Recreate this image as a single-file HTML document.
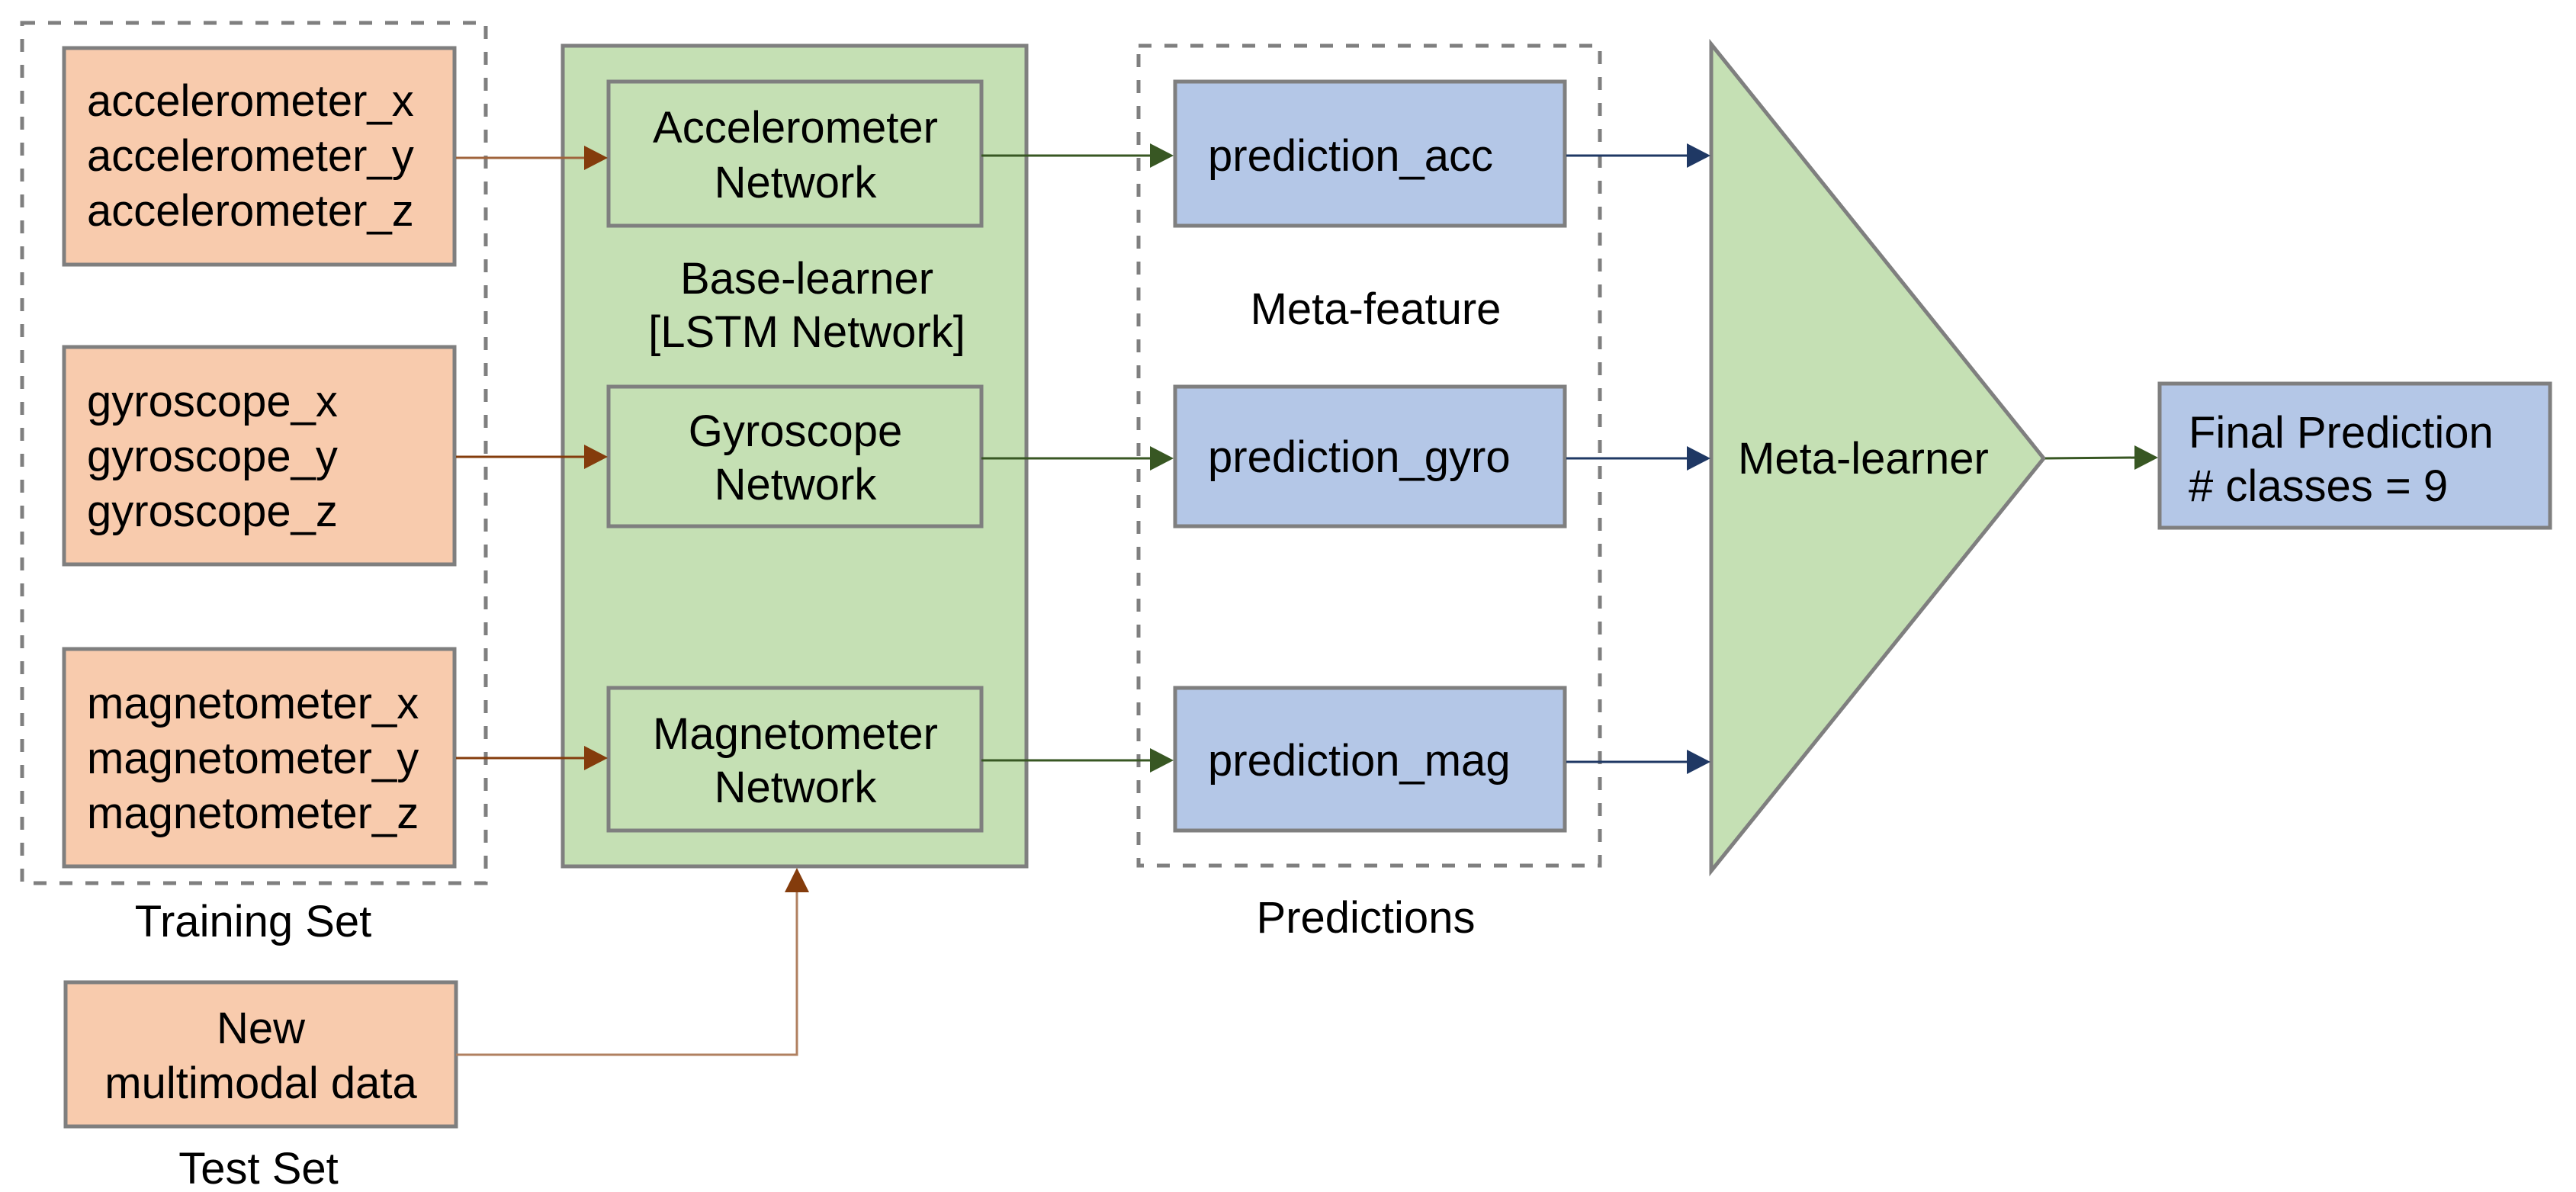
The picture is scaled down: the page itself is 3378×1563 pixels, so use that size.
<!DOCTYPE html>
<html><head><meta charset="utf-8"><style>
html,body{margin:0;padding:0;background:#fff;}
svg{display:block;}
text{font-family:"Liberation Sans","NanumGothic",sans-serif;font-size:58px;fill:#000;}
</style></head><body>
<svg width="3378" height="1563" viewBox="0 0 3378 1563" xmlns="http://www.w3.org/2000/svg">
<defs>
<marker id="ab" markerWidth="10" markerHeight="10" refX="9" refY="5" orient="auto" markerUnits="userSpaceOnUse" viewBox="0 0 10 10"><path d="M0,0 L10,5 L0,10 z" fill="#843C0C"/></marker>
</defs>
<!-- Training set dashed -->
<rect x="29" y="30" width="608" height="1128" fill="none" stroke="#7F7F7F" stroke-width="5" stroke-dasharray="17,17"/>
<rect x="84" y="63" width="512" height="284" fill="#F8CBAD" stroke="#7F7F7F" stroke-width="5"/>
<rect x="84" y="455" width="512" height="285" fill="#F8CBAD" stroke="#7F7F7F" stroke-width="5"/>
<rect x="84" y="851" width="512" height="285" fill="#F8CBAD" stroke="#7F7F7F" stroke-width="5"/>
<text x="114" y="152">accelerometer_x</text>
<text x="114" y="224">accelerometer_y</text>
<text x="114" y="296">accelerometer_z</text>
<text x="114" y="546">gyroscope_x</text>
<text x="114" y="618">gyroscope_y</text>
<text x="114" y="690">gyroscope_z</text>
<text x="114" y="942">magnetometer_x</text>
<text x="114" y="1014">magnetometer_y</text>
<text x="114" y="1086">magnetometer_z</text>
<text x="332" y="1228" text-anchor="middle">Training Set</text>
<!-- New data -->
<rect x="86" y="1288" width="512" height="189" fill="#F8CBAD" stroke="#7F7F7F" stroke-width="5"/>
<text x="342" y="1368" text-anchor="middle">New</text>
<text x="342" y="1440" text-anchor="middle">multimodal data</text>
<text x="339" y="1552" text-anchor="middle">Test Set</text>
<!-- Base learner -->
<rect x="738" y="60" width="608" height="1076" fill="#C5E0B4" stroke="#7F7F7F" stroke-width="5"/>
<rect x="798" y="107" width="489" height="189" fill="#C5E0B4" stroke="#7F7F7F" stroke-width="5"/>
<rect x="798" y="507" width="489" height="183" fill="#C5E0B4" stroke="#7F7F7F" stroke-width="5"/>
<rect x="798" y="902" width="489" height="187" fill="#C5E0B4" stroke="#7F7F7F" stroke-width="5"/>
<text x="1043" y="187" text-anchor="middle">Accelerometer</text>
<text x="1043" y="259" text-anchor="middle">Network</text>
<text x="1043" y="585" text-anchor="middle">Gyroscope</text>
<text x="1043" y="655" text-anchor="middle">Network</text>
<text x="1043" y="982" text-anchor="middle">Magnetometer</text>
<text x="1043" y="1052" text-anchor="middle">Network</text>
<text x="1058" y="385" text-anchor="middle">Base-learner</text>
<text x="1058" y="455" text-anchor="middle">[LSTM Network]</text>
<!-- arrows input -> networks -->
<g stroke-width="3" fill="none">
<line x1="598" y1="207" x2="770" y2="207" stroke="#A0643C"/>
<line x1="598" y1="599" x2="770" y2="599" stroke="#843C0C"/>
<line x1="598" y1="994" x2="770" y2="994" stroke="#843C0C"/>
<polyline points="598,1383 1045,1383 1045,1165" stroke="#B08060"/>
</g>
<g fill="#843C0C">
<path d="M766,191 L797,207 L766,223 z"/>
<path d="M766,583 L797,599 L766,615 z"/>
<path d="M766,978 L797,994 L766,1010 z"/>
<path d="M1029,1170 L1045,1138 L1061,1170 z"/>
</g>
<!-- Predictions -->
<rect x="1493" y="60" width="605" height="1075" fill="none" stroke="#7F7F7F" stroke-width="5" stroke-dasharray="17,17"/>
<rect x="1541" y="107" width="511" height="189" fill="#B4C7E7" stroke="#7F7F7F" stroke-width="5"/>
<rect x="1541" y="507" width="511" height="183" fill="#B4C7E7" stroke="#7F7F7F" stroke-width="5"/>
<rect x="1541" y="902" width="511" height="187" fill="#B4C7E7" stroke="#7F7F7F" stroke-width="5"/>
<text x="1584" y="224">prediction_acc</text>
<text x="1584" y="619">prediction_gyro</text>
<text x="1584" y="1017">prediction_mag</text>
<text x="1804" y="425" text-anchor="middle">Meta-feature</text>
<text x="1791" y="1223" text-anchor="middle">Predictions</text>
<g stroke-width="3" fill="none" stroke="#385723">
<line x1="1287" y1="204" x2="1512" y2="204"/>
<line x1="1287" y1="601" x2="1512" y2="601"/>
<line x1="1287" y1="997" x2="1512" y2="997"/>
</g>
<g fill="#385723">
<path d="M1508,188 L1539,204 L1508,220 z"/>
<path d="M1508,585 L1539,601 L1508,617 z"/>
<path d="M1508,981 L1539,997 L1508,1013 z"/>
</g>
<!-- Meta learner -->
<polygon points="2244,58 2680,601 2244,1142" fill="#C5E0B4" stroke="#7F7F7F" stroke-width="5"/>
<text x="2279" y="621">Meta-learner</text>
<g stroke-width="3" fill="none" stroke="#1F3864">
<line x1="2054" y1="204" x2="2215" y2="204"/>
<line x1="2054" y1="601" x2="2215" y2="601"/>
<line x1="2054" y1="999" x2="2215" y2="999"/>
</g>
<g fill="#1F3864">
<path d="M2212,188 L2243,204 L2212,220 z"/>
<path d="M2212,585 L2243,601 L2212,617 z"/>
<path d="M2212,983 L2243,999 L2212,1015 z"/>
</g>
<line x1="2682" y1="601" x2="2802" y2="600" stroke="#385723" stroke-width="3"/>
<path d="M2799,584 L2830,600 L2799,616 z" fill="#385723"/>
<!-- Final -->
<rect x="2832" y="503" width="512" height="189" fill="#B4C7E7" stroke="#7F7F7F" stroke-width="5"/>
<text x="2870" y="587">Final Prediction</text>
<text x="2870" y="657"># classes = 9</text>
</svg>
</body></html>
